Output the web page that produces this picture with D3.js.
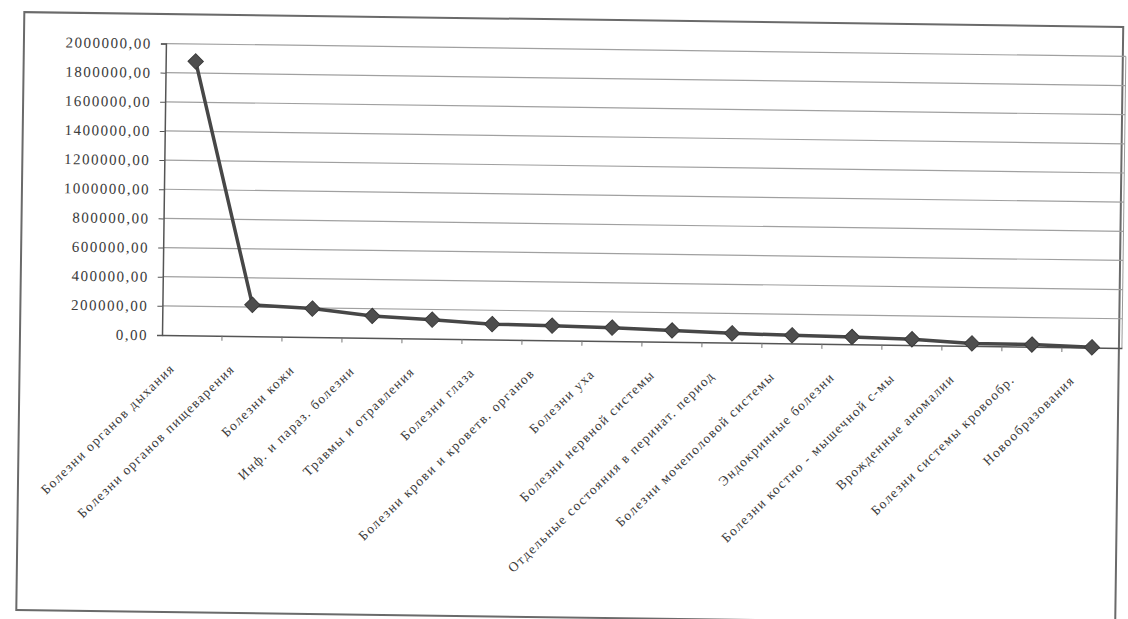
<!DOCTYPE html>
<html lang="ru">
  <head>
    <meta charset="UTF-8" />
    <title>Line Chart</title>
    <script src="https://cdn.jsdelivr.net/npm/d3@7"></script>
    <style>
      body { margin: 0; background: #fff; }
      text {
        font-family: "Liberation Serif", "DejaVu Serif", serif;
        fill: #3c3c3c;
      }
      .grid line { stroke: #a0a0a0; stroke-width: 1.2px; }
      .data-line { fill: none; stroke: #474747; stroke-width: 3.5px; }
      .marker { fill: #4e4e4e; stroke: #3a3a3a; stroke-width: 1px; }
      .frame { fill: none; stroke: #6a6a6a; stroke-width: 2px; }
      .plot-border { fill: none; stroke: #9a9a9a; stroke-width: 1px; }
    </style>
  </head>
  <body>
    <script>

      // Categories (ICD classes), already sorted by value
      var categories = [
        "Болезни органов дыхания",
        "Болезни органов пищеварения",
        "Болезни кожи",
        "Инф. и параз. болезни",
        "Травмы и отравления",
        "Болезни глаза",
        "Болезни крови и кроветв. органов",
        "Болезни уха",
        "Болезни нервной системы",
        "Отдельные состояния в перинат. период",
        "Болезни мочеполовой системы",
        "Эндокринные болезни",
        "Болезни костно - мышечной с-мы",
        "Врожденные аномалии",
        "Болезни системы кровообр.",
        "Новообразования"
      ];

      // Values
      var values = [
        1880000, 215000, 195000, 150000, 130000, 105000, 100000, 92000,
        78000, 64000, 56000, 50000, 40000, 17000, 15000, 1000
      ];

      // Y axis tick values
      var yTicks = [0, 200000, 400000, 600000, 800000, 1000000,
                    1200000, 1400000, 1600000, 1800000, 2000000];

      var w = 1128, h = 619;
      var plot = { left: 162, right: 1122, top: 43.5, bottom: 335 };

      var svg = d3.select("body").append("svg")
        .attr("width", w)
        .attr("height", h);

      // the scan is slightly tilted, so the whole sheet gets a small turn
      var g = svg.append("g")
        .attr("transform", "rotate(0.77," + plot.left + "," + plot.bottom + ")");

      // outer frame of the chart
      g.append("rect")
        .attr("class", "frame")
        .attr("x", 20)
        .attr("y", 14)
        .attr("width", 1099)
        .attr("height", 598);

      // Scales...
      var xScale = d3.scaleBand()
        .domain(categories)
        .range([plot.left, plot.right]);

      var yScale = d3.scaleLinear()
        .domain([0, 2000000])
        .range([plot.bottom, plot.top]);

      // gridlines
      g.append("g")
        .attr("class", "grid")
        .selectAll("line")
        .data(yTicks.slice(1))
        .enter()
        .append("line")
        .attr("x1", plot.left)
        .attr("x2", plot.right)
        .attr("y1", function(d) { return yScale(d); })
        .attr("y2", function(d) { return yScale(d); });

      g.append("line")
        .attr("class", "plot-border")
        .attr("x1", plot.right).attr("x2", plot.right)
        .attr("y1", plot.top).attr("y2", plot.bottom);

      // y axis
      var yAxis = d3.axisLeft(yScale)
        .tickValues(yTicks)
        .tickSize(5)
        .tickPadding(9)
        .tickFormat(function(d) { return d3.format(".2f")(d).replace(".", ","); });

      var ya = g.append("g")
        .attr("transform", "translate(" + plot.left + ",0)")
        .call(yAxis);
      ya.select(".domain").attr("stroke", "#555").attr("stroke-width", 1.5);
      ya.selectAll(".tick line").attr("stroke", "#555");
      ya.selectAll("text")
        .style("font-size", "15px")
        .style("letter-spacing", "1.5px")
        .attr("fill", "#4a4a4a");

      // x axis (ticks between the categories)
      var xAxis = d3.axisBottom(xScale)
        .tickSize(0)
        .tickFormat("");

      var xa = g.append("g")
        .attr("transform", "translate(0," + plot.bottom + ")")
        .call(xAxis);
      xa.select(".domain").attr("stroke", "#555").attr("stroke-width", 1.5);

      xa.selectAll(".sep")
        .data(categories.slice(1))
        .enter()
        .append("line")
        .attr("class", "sep")
        .attr("x1", function(d) { return xScale(d); })
        .attr("x2", function(d) { return xScale(d); })
        .attr("y1", 0)
        .attr("y2", 5)
        .attr("stroke", "#777");

      // rotated category labels
      g.append("g")
        .selectAll("text")
        .data(categories)
        .enter()
        .append("text")
        .attr("text-anchor", "end")
        .attr("transform", function(d) {
          var x = xScale(d) + xScale.bandwidth() / 2 - 16;
          return "translate(" + x + "," + (plot.bottom + 34) + ") rotate(-45)";
        })
        .style("font-size", "13.5px")
        .style("letter-spacing", "1.4px")
        .text(function(d) { return d; });

      // the line
      var line = d3.line()
        .x(function(d, i) { return xScale(categories[i]) + xScale.bandwidth() / 2; })
        .y(function(d) { return yScale(d); });

      g.append("path")
        .datum(values)
        .attr("class", "data-line")
        .attr("d", line);

      // diamond markers
      g.selectAll(".marker")
        .data(values)
        .enter()
        .append("path")
        .attr("class", "marker")
        .attr("d", d3.symbol().type(d3.symbolDiamond2).size(150))
        .attr("transform", function(d, i) {
          return "translate(" + (xScale(categories[i]) + xScale.bandwidth() / 2) + "," + yScale(d) + ")";
        });

    </script>
  </body>
</html>
